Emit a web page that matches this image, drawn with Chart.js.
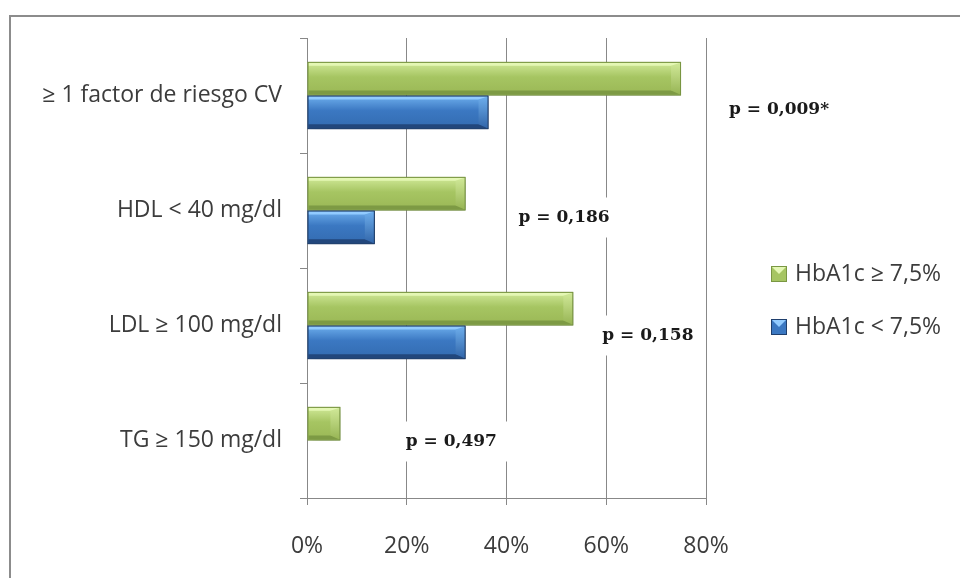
<!DOCTYPE html>
<html>
<head>
<meta charset="utf-8">
<script src="https://cdn.jsdelivr.net/npm/chart.js@4.4.1/dist/chart.umd.min.js"></script>
<style>
  html, body { margin: 0; padding: 0; background: #fff; overflow: hidden; }
  #frame { position: absolute; left: 9px; top: 15px; width: 1000px; height: 700px; border: 2px solid #8c8c8c; box-sizing: border-box; }
  #chart { position: absolute; left: 0; top: 0; }
</style>
</head>
<body>
<div id="frame"></div>
<canvas id="chart" width="960" height="578"></canvas>
<script>
const categories = ['≥ 1 factor de riesgo CV', 'HDL < 40 mg/dl', 'LDL ≥ 100 mg/dl', 'TG ≥ 150 mg/dl'];
const seriesNames = ['HbA1c ≥ 7,5%', 'HbA1c < 7,5%'];
const highA1c = [75, 31.8, 53.4, 6.7];
const lowA1c = [36.4, 13.6, 31.8, 0];
const pValues = ['p = 0,009*', 'p = 0,186', 'p = 0,158', 'p = 0,497'];

// where each p-value text box sits: x in axis %, dy in px from category centre
const pLabelPos = [
    { x: 84.6, dy: 14 },
    { x: 42.4, dy: 7 },
    { x: 59.2, dy: 10 },
    { x: 19.8, dy: 1 },
];

const shades = [
    { face: '#a6c562', top: '#d2ea9a', bottom: '#9ab755', edge: '#7d9a44', hi: '#e4f7b4', side: '#95b352', border: '#7a9743' },
    { face: '#3b78c2', top: '#6fb0ee', bottom: '#336bb0', edge: '#22477c', hi: '#92cbff', side: '#3064a8', border: '#1f3f6d' },
];

const labelFont = { family: '"Open Sans"', size: 23 };
const textColor = '#3c3c3c';
const gridColor = '#888888';

const barShade = {
    id: 'barShade',
    beforeDatasetsDraw(chart) {
        const ctx = chart.ctx;
        ctx.save();
        ctx.shadowColor = 'rgba(0,0,0,0.3)';
        ctx.shadowBlur = 7;
        ctx.shadowOffsetX = 3;
        ctx.shadowOffsetY = 3;
    },
    afterDatasetsDraw(chart) {
        const ctx = chart.ctx;
        ctx.restore();
        chart.data.datasets.forEach((ds, d) => {
            const s = shades[d];
            chart.getDatasetMeta(d).data.forEach(bar => {
                const l = bar.base, r = bar.x;
                if (r - l < 2) return;
                const t = bar.y - bar.height / 2, b = bar.y + bar.height / 2;
                const bv = Math.min(10, (r - l) / 2);
                const poly = (pts, fill) => {
                    ctx.beginPath();
                    ctx.moveTo(pts[0][0], pts[0][1]);
                    pts.slice(1).forEach(p => ctx.lineTo(p[0], p[1]));
                    ctx.closePath();
                    ctx.fillStyle = fill;
                    ctx.fill();
                };
                ctx.save();
                const g = ctx.createLinearGradient(0, t, 0, b);
                g.addColorStop(0, s.top);
                g.addColorStop(0.45, s.face);
                g.addColorStop(1, s.bottom);
                ctx.fillStyle = g;
                ctx.fillRect(l + 1, t + 1, r - l - 2, b - t - 2);
                poly([[l + 1, t + 1], [r - 1, t + 1], [r - 4, t + 4], [l + 1, t + 4]], s.hi);
                poly([[l + 1, b - 1], [r - 1, b - 1], [r - 5, b - 5], [l + 1, b - 5]], s.edge);
                const sg = ctx.createLinearGradient(0, t, 0, b);
                sg.addColorStop(0, s.top);
                sg.addColorStop(1, s.side);
                poly([[r - 1, t + 1], [r - 1, b - 1], [r - bv, b - 5], [r - bv, t + 4]], sg);
                ctx.strokeStyle = s.border;
                ctx.lineWidth = 1;
                ctx.strokeRect(l + 0.5, t + 0.5, r - l - 1, b - t - 1);
                ctx.restore();
            });
        });
    }
};

const pLabels = {
    id: 'pLabels',
    afterDraw(chart) {
        const { ctx, scales: { x, y } } = chart;
        ctx.save();
        ctx.font = 'bold 17px "DejaVu Serif"';
        ctx.textBaseline = 'middle';
        pValues.forEach((txt, i) => {
            const px = x.getPixelForValue(pLabelPos[i].x);
            const py = y.getPixelForValue(i) + pLabelPos[i].dy;
            const w = ctx.measureText(txt).width;
            ctx.fillStyle = '#ffffff';
            ctx.fillRect(px - 8, py - 20, w + 20, 40);
            ctx.fillStyle = '#1a1a1a';
            ctx.fillText(txt, px, py);
        });
        ctx.restore();
    }
};

const legendBox = {
    id: 'legendBox',
    afterDraw(chart) {
        const ctx = chart.ctx;
        ctx.save();
        ctx.font = '23px "Open Sans"';
        ctx.textBaseline = 'middle';
        chart.data.datasets.forEach((ds, d) => {
            const s = shades[d];
            const cy = 274 + d * 53;
            const bx = 771, by = cy - 8;
            ctx.fillStyle = s.face;
            ctx.fillRect(bx, by, 16, 16);
            ctx.beginPath();
            ctx.moveTo(bx, by);
            ctx.lineTo(bx + 16, by);
            ctx.lineTo(bx + 8, by + 8);
            ctx.closePath();
            ctx.fillStyle = s.hi;
            ctx.fill();
            ctx.strokeStyle = s.border;
            ctx.lineWidth = 1;
            ctx.strokeRect(bx + 0.5, by + 0.5, 15, 15);
            ctx.fillStyle = textColor;
            ctx.fillText(ds.label, 795, cy);
        });
        ctx.restore();
    }
};

const ctx = document.getElementById('chart').getContext('2d');
const chart = new Chart(ctx, {
    type: 'bar',
    data: {
        labels: categories,
        datasets: [
            {
                label: seriesNames[0],
                data: highA1c,
                backgroundColor: shades[0].face,
                borderColor: shades[0].border,
                borderWidth: 1,
                categoryPercentage: 0.585,
                barPercentage: 1,
            },
            {
                label: seriesNames[1],
                data: lowA1c,
                backgroundColor: shades[1].face,
                borderColor: shades[1].border,
                borderWidth: 1,
                categoryPercentage: 0.585,
                barPercentage: 1,
            },
        ],
    },
    options: {
        indexAxis: 'y',
        responsive: false,
        animation: false,
        layout: { padding: { top: 38, right: 254, left: 0, bottom: 0 } },
        plugins: { legend: { display: false }, tooltip: { enabled: false } },
        scales: {
            x: {
                min: 0,
                max: 80,
                ticks: { stepSize: 20, callback: v => v + '%', font: labelFont, color: textColor, padding: 28 },
                grid: { color: gridColor, tickLength: 7 },
                border: { color: gridColor },
                afterFit: s => { s.height = 80; },
            },
            y: {
                ticks: { font: labelFont, color: textColor, padding: 18 },
                grid: { offset: true, drawOnChartArea: false, tickLength: 7, color: gridColor },
                border: { color: gridColor },
                afterFit: s => { s.width = 307; },
            },
        },
    },
    plugins: [barShade, pLabels, legendBox],
});
</script>
</body>
</html>
